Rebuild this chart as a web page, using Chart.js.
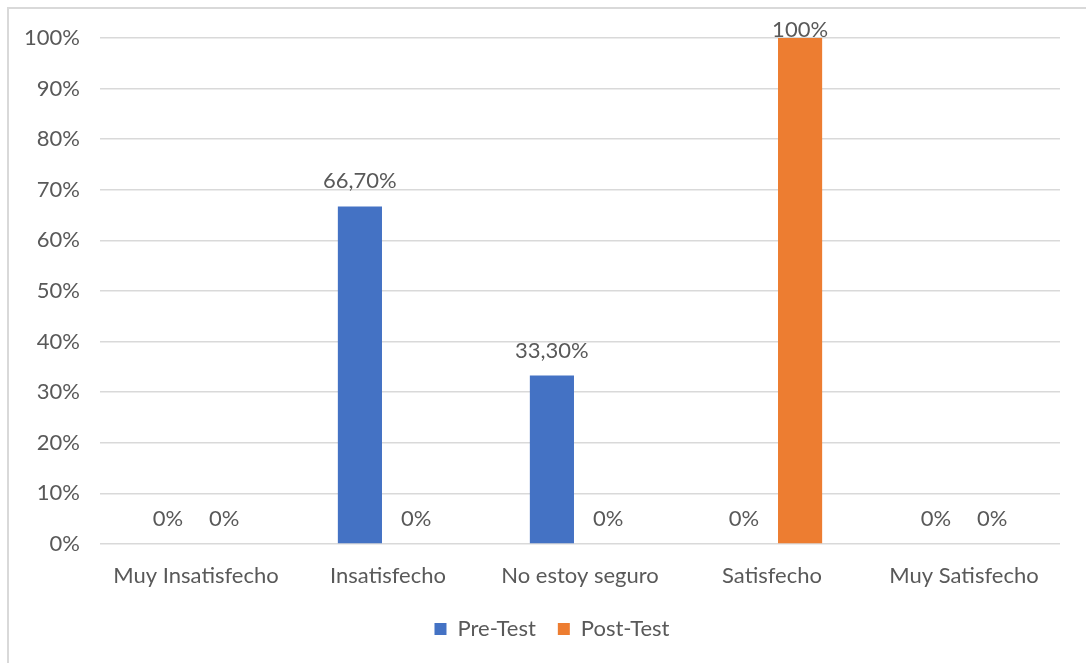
<!DOCTYPE html>
<html>
<head>
<meta charset="utf-8">
<script src="https://cdn.jsdelivr.net/npm/chart.js@4"></script>
<style>
    html, body { margin: 0; padding: 0; background: #fff; }
    #wrap { position: relative; width: 1086px; height: 663px; }
    #frame { position: absolute; left: 7px; top: 7px; width: 1100px; height: 660px; border-left: 2px solid #d9d9d9; border-top: 2px solid #d9d9d9; box-sizing: border-box; }
    canvas { position: absolute; left: 0; top: 0; }
</style>
</head>
<body>
<div id="wrap">
    <div id="frame"></div>
    <canvas id="myChart" width="1086" height="663"></canvas>
</div>
<script>
// values
var categories = ['Muy Insatisfecho', 'Insatisfecho', 'No estoy seguro', 'Satisfecho', 'Muy Satisfecho'];
var preTest = [0, 66.7, 33.3, 0, 0];
var postTest = [0, 0, 0, 100, 0];
var yTicks = [0, 10, 20, 30, 40, 50, 60, 70, 80, 90, 100];

var textColor = '#595959';
var fontFamily = 'Lato, "Open Sans", sans-serif';
var fontSize = 22;

function fmtLabel(v) {
    if (v === 0 || v === 100) return v + '%';
    return v.toFixed(2).replace('.', ',') + '%';
}

// small inline plugin for the value labels above the bars
// (kept inside the plot area like excel does for the 100% one)
var barLabels = {
    id: 'barLabels',
    afterDatasetsDraw: function (chart) {
        var ctx = chart.ctx;
        var top = chart.chartArea.top;
        ctx.save();
        ctx.fillStyle = textColor;
        ctx.font = fontSize + 'px ' + fontFamily;
        ctx.textAlign = 'center';
        ctx.textBaseline = 'alphabetic';
        chart.data.datasets.forEach(function (ds, i) {
            var meta = chart.getDatasetMeta(i);
            meta.data.forEach(function (bar, j) {
                var y = Math.max(bar.y - 18, top - 1);
                ctx.fillText(fmtLabel(ds.data[j]), bar.x, y);
            });
        });
        ctx.restore();
    }
};

var ctx = document.getElementById('myChart');
var myChart = new Chart(ctx, {
    type: 'bar',
    data: {
        labels: categories,
        datasets: [{
            label: 'Pre-Test',
            data: preTest,
            backgroundColor: '#4472c4',
            categoryPercentage: 0.585,
            barPercentage: 0.786
        }, {
            label: 'Post-Test',
            data: postTest,
            backgroundColor: '#ed7d31',
            categoryPercentage: 0.585,
            barPercentage: 0.786
        }]
    },
    options: {
        responsive: false,
        animation: false,
        layout: {
            padding: { left: 18, right: 0, top: 38, bottom: 13 }
        },
        plugins: {
            tooltip: { enabled: false },
            legend: {
                position: 'bottom',
                labels: {
                    color: textColor,
                    font: { size: fontSize, family: fontFamily },
                    boxWidth: 12,
                    boxHeight: 12,
                    padding: 22
                }
            }
        },
        scales: {
            x: {
                grid: { display: false },
                border: { display: false },
                afterFit: function (scale) { scale.height = 52; },
                ticks: {
                    color: textColor,
                    font: { size: fontSize, family: fontFamily },
                    padding: 11,
                    maxRotation: 0
                }
            },
            y: {
                min: 0,
                max: 100,
                afterFit: function (scale) { scale.width = 82; },
                afterBuildTicks: function (scale) {
                    scale.ticks = yTicks.map(function (v) { return { value: v }; });
                },
                grid: { color: '#d9d9d9', lineWidth: 1.5, drawTicks: false },
                border: { display: false },
                ticks: {
                    color: textColor,
                    font: { size: fontSize, family: fontFamily },
                    padding: 20,
                    callback: function (v) { return v + '%'; }
                }
            },
            // empty right-hand spacer so the legend sits where excel puts it
            yRight: {
                position: 'right',
                afterFit: function (scale) { scale.width = 26; },
                grid: { display: false },
                border: { display: false },
                ticks: { display: false }
            }
        }
    },
    plugins: [barLabels]
});
</script>
</body>
</html>
